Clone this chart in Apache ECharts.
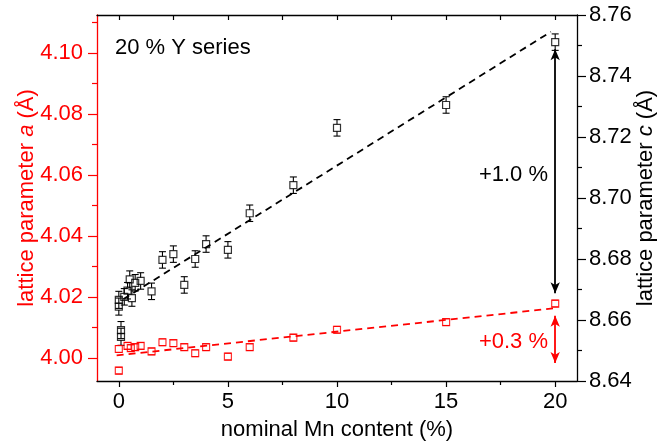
<!DOCTYPE html>
<html>
<head>
<meta charset="utf-8">
<script src="https://cdn.jsdelivr.net/npm/echarts@6/dist/echarts.min.js"></script>
<style>
  html, body { margin: 0; padding: 0; background: #fff; }
  #chart { width: 660px; height: 444px; }
</style>
</head>
<body>
<div id="chart"></div>
<script>
// Lattice parameters versus nominal Mn content (20 % Y series)
const FONT = "'Liberation Sans', Arial, sans-serif";

// lattice parameter c (right axis), with error bars
const cMn  = [0, 0, 0.1, 0.1, 0.25, 0.4, 0.5, 0.6, 0.75, 1.0, 1.5, 2, 2.5, 3, 3.5, 4, 5, 6, 8, 10, 15, 20];
const cVal = [8.6666, 8.6644, 8.6567, 8.6545, 8.6676, 8.6696, 8.6733, 8.6672, 8.6722, 8.6728, 8.6694,
              8.6797, 8.6816, 8.6715, 8.6800, 8.6849, 8.6830, 8.6950, 8.7042, 8.7230, 8.7305, 8.7511];
const cErr = [0.0028, 0.0028, 0.0028, 0.0028, 0.0027, 0.0027, 0.0028, 0.0027, 0.0027, 0.0027, 0.0027,
              0.0027, 0.0027, 0.0027, 0.0027, 0.0027, 0.0027, 0.0027, 0.0027, 0.0027, 0.0027, 0.0027];

// lattice parameter a (left axis), with error bars
const aMn  = [0, 0, 0.4, 0.55, 0.75, 1.0, 1.5, 2, 2.5, 3, 3.5, 4, 5, 6, 8, 10, 15, 20];
const aVal = [4.0030, 3.9959, 4.0040, 4.0033, 4.0036, 4.0040, 4.0022, 4.0052, 4.0049, 4.0036,
              4.0016, 4.0036, 4.0005, 4.0036, 4.0067, 4.0093, 4.0118, 4.0179];
const aErr = [0.0011, 0.0011, 0.0011, 0.0011, 0.0011, 0.0011, 0.0011, 0.0011, 0.0011, 0.0011,
              0.0011, 0.0011, 0.0011, 0.0011, 0.0011, 0.0011, 0.0011, 0.0011];

// linear fits (end points)
const cFit = [[0.2, 8.6668], [19.8, 8.7545]];
const aFit = [[-0.1, 4.0009], [19.9, 4.0163]];

// relative change arrows at 20 % Mn
const cArrow = [[20, 8.7488], [20, 8.6688]];
const aArrow = [[20, 4.0139], [20, 3.9984]];

// tick values
const xMajor = [0, 5, 10, 15, 20];
const xMinor = [2.5, 7.5, 12.5, 17.5];
const xTop   = [0, 2.5, 5, 7.5, 10, 12.5, 15, 17.5, 20];
const aMajor = [4.00, 4.02, 4.04, 4.06, 4.08, 4.10];
const aMinor = [4.01, 4.03, 4.05, 4.07, 4.09, 4.11];
const cMajor = [8.64, 8.66, 8.68, 8.70, 8.72, 8.74, 8.76];
const cMinor = [8.65, 8.67, 8.69, 8.71, 8.73, 8.75];

const RED = '#ff0000';
const BLACK = '#000000';

function zip3(x, y, e) { return x.map((v, i) => [v, y[i], e[i]]); }

function errorBars(color) {
  return function (params, api) {
    const x = api.value(0), y = api.value(1), e = api.value(2);
    const p = api.coord([x, y]);
    const t = api.coord([x, y + e]);
    const b = api.coord([x, y - e]);
    const half = 3.5, cap = 3.5;
    const style = { stroke: color, lineWidth: 1.1, fill: null };
    const children = [
      { type: 'line', shape: { x1: p[0] - cap, y1: t[1], x2: p[0] + cap, y2: t[1] }, style },
      { type: 'line', shape: { x1: p[0] - cap, y1: b[1], x2: p[0] + cap, y2: b[1] }, style }
    ];
    if (p[1] - t[1] > half) {
      children.push({ type: 'line', shape: { x1: p[0], y1: t[1], x2: p[0], y2: p[1] - half }, style });
      children.push({ type: 'line', shape: { x1: p[0], y1: p[1] + half, x2: p[0], y2: b[1] }, style });
    }
    return { type: 'group', children };
  };
}

const label22 = { fontFamily: FONT, fontSize: 22 };

const option = {
  animation: false,
  grid: { left: 97, right: 83, top: 15, bottom: 63, containLabel: false, outerBoundsMode: 'none' },
  xAxis: [
    {
      type: 'value', position: 'bottom', min: -1, max: 21,
      axisLine: { show: true, onZero: false, lineStyle: { color: BLACK, width: 1.3 } },
      axisTick: { show: true, inside: false, length: 6, customValues: xMajor, lineStyle: { color: BLACK, width: 1.2 } },
      axisLabel: Object.assign({ color: BLACK, margin: 10, customValues: xMajor }, label22),
      splitLine: { show: false },
      name: 'nominal Mn content (%)', nameLocation: 'middle', nameGap: 38, nameMoveOverlap: false,
      nameTextStyle: Object.assign({ color: BLACK }, label22)
    },
    {
      type: 'value', position: 'bottom', min: -1, max: 21,
      axisLine: { show: false, onZero: false },
      axisTick: { show: true, inside: false, length: 4, customValues: xMinor, lineStyle: { color: BLACK, width: 1.2 } },
      axisLabel: { show: false },
      splitLine: { show: false }
    },
    {
      type: 'value', position: 'top', min: -1, max: 21,
      axisLine: { show: true, onZero: false, lineStyle: { color: BLACK, width: 1.3 } },
      axisTick: { show: true, inside: true, length: 5, customValues: xTop, lineStyle: { color: BLACK, width: 1.2 } },
      axisLabel: { show: false },
      splitLine: { show: false }
    }
  ],
  yAxis: [
    {
      type: 'value', position: 'left', min: 3.9925, max: 4.1125,
      axisLine: { show: true, onZero: false, lineStyle: { color: RED, width: 1.3 } },
      axisTick: { show: true, inside: false, length: 9, customValues: aMajor, lineStyle: { color: RED, width: 1.2 } },
      axisLabel: Object.assign({ color: RED, margin: 14, customValues: aMajor,
        formatter: v => v.toFixed(2) }, label22),
      splitLine: { show: false },
      name: '{n|lattice parameter }{i|a}{n| (Å)}', nameLocation: 'middle', nameGap: 59, nameRotate: 90,
      nameMoveOverlap: false,
      nameTextStyle: {
        color: RED, fontFamily: FONT, fontSize: 22,
        rich: {
          n: { color: RED, fontFamily: FONT, fontSize: 22 },
          i: { color: RED, fontFamily: FONT, fontSize: 22, fontStyle: 'italic' }
        }
      }
    },
    {
      type: 'value', position: 'left', min: 3.9925, max: 4.1125,
      axisLine: { show: false, onZero: false },
      axisTick: { show: true, inside: false, length: 5, customValues: aMinor, lineStyle: { color: RED, width: 1.2 } },
      axisLabel: { show: false },
      splitLine: { show: false }
    },
    {
      type: 'value', position: 'right', min: 8.64, max: 8.76,
      axisLine: { show: true, onZero: false, lineStyle: { color: BLACK, width: 1.3 } },
      axisTick: { show: true, inside: false, length: 9, customValues: cMajor, lineStyle: { color: BLACK, width: 1.2 } },
      axisLabel: Object.assign({ color: BLACK, margin: 12, customValues: cMajor,
        formatter: v => v.toFixed(2) }, label22),
      splitLine: { show: false },
      name: '{n|lattice parameter }{i|c}{n| (Å)}', nameLocation: 'middle', nameGap: 58, nameRotate: 90,
      nameMoveOverlap: false,
      nameTextStyle: {
        color: BLACK, fontFamily: FONT, fontSize: 22,
        rich: {
          n: { color: BLACK, fontFamily: FONT, fontSize: 22 },
          i: { color: BLACK, fontFamily: FONT, fontSize: 22, fontStyle: 'italic' }
        }
      }
    },
    {
      type: 'value', position: 'right', min: 8.64, max: 8.76,
      axisLine: { show: false, onZero: false },
      axisTick: { show: true, inside: false, length: 5, customValues: cMinor, lineStyle: { color: BLACK, width: 1.2 } },
      axisLabel: { show: false },
      splitLine: { show: false }
    }
  ],
  series: [
    {
      name: 'c fit', type: 'line', xAxisIndex: 0, yAxisIndex: 2,
      data: cFit, showSymbol: false, symbol: 'none', silent: true,
      lineStyle: { color: BLACK, width: 1.8, type: [7, 5] },
      z: 2
    },
    {
      name: 'a fit', type: 'line', xAxisIndex: 0, yAxisIndex: 0,
      data: aFit, showSymbol: false, symbol: 'none', silent: true,
      lineStyle: { color: RED, width: 1.8, type: [7, 5] },
      z: 2
    },
    {
      name: 'c error', type: 'custom', xAxisIndex: 0, yAxisIndex: 2,
      renderItem: errorBars(BLACK), data: zip3(cMn, cVal, cErr), silent: true, z: 3
    },
    {
      name: 'a error', type: 'custom', xAxisIndex: 0, yAxisIndex: 0,
      renderItem: errorBars(RED), data: zip3(aMn, aVal, aErr), silent: true, z: 3
    },
    {
      name: 'c', type: 'scatter', xAxisIndex: 0, yAxisIndex: 2,
      data: cMn.map((x, i) => [x, cVal[i]]),
      symbol: 'rect', symbolSize: 7,
      itemStyle: { color: 'rgba(255,255,255,0)', borderColor: BLACK, borderWidth: 1.2 },
      silent: true, z: 4,
      markLine: {
        silent: true, symbol: ['arrow', 'arrow'], symbolSize: [7, 11],
        label: { show: false },
        lineStyle: { color: BLACK, width: 1.8, type: 'solid' },
        data: [[{ coord: cArrow[0] }, { coord: cArrow[1] }]]
      }
    },
    {
      name: 'a', type: 'scatter', xAxisIndex: 0, yAxisIndex: 0,
      data: aMn.map((x, i) => [x, aVal[i]]),
      symbol: 'rect', symbolSize: 7,
      itemStyle: { color: 'rgba(255,255,255,0)', borderColor: RED, borderWidth: 1.2 },
      silent: true, z: 4,
      markLine: {
        silent: true, symbol: ['arrow', 'arrow'], symbolSize: [7, 11],
        label: { show: false },
        lineStyle: { color: RED, width: 1.8, type: 'solid' },
        data: [[{ coord: aArrow[0] }, { coord: aArrow[1] }]]
      }
    }
  ],
  graphic: [
    { type: 'text', left: 115, top: 37, style: { text: '20 % Y series', font: '22px ' + FONT, fill: BLACK } },
    { type: 'text', right: 112, top: 164, style: { text: '+1.0 %', font: '22px ' + FONT, fill: BLACK } },
    { type: 'text', right: 112, top: 331, style: { text: '+0.3 %', font: '22px ' + FONT, fill: RED } }
  ]
};

const chart = echarts.init(document.getElementById('chart'), null, { renderer: 'canvas' });
chart.setOption(option);
</script>
</body>
</html>
